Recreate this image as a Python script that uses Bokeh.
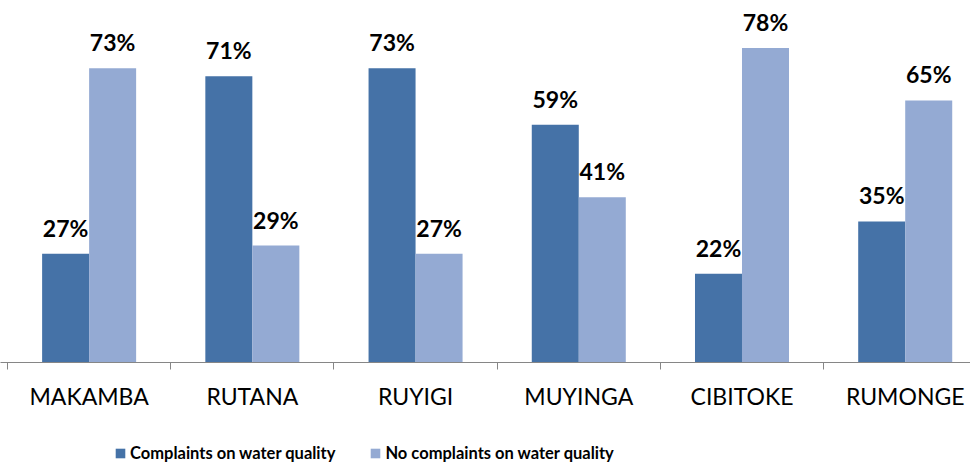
from bokeh.plotting import figure
from bokeh.models import ColumnDataSource, FixedTicker, Legend, LegendItem
from bokeh.layouts import column
from bokeh.embed import file_html
from bokeh.resources import INLINE
from bokeh.core.properties import value

categories = ["MAKAMBA", "RUTANA", "RUYIGI", "MUYINGA", "CIBITOKE", "RUMONGE"]
complaints = [27, 71, 73, 59, 22, 35]
no_complaints = [73, 29, 27, 41, 78, 65]
series_names = ["Complaints on water quality", "No complaints on water quality"]

DARK = "#4572A7"
LIGHT = "#94AAD3"
BAR_W = 0.288

n = len(categories)
centers = [i + 0.5 for i in range(n)]
x_dark = [c - BAR_W / 2 for c in centers]
x_light = [c + BAR_W / 2 for c in centers]

src_dark = ColumnDataSource(dict(x=x_dark, top=complaints, lab=[f"{v}%" for v in complaints]))
src_light = ColumnDataSource(dict(x=x_light, top=no_complaints, lab=[f"{v}%" for v in no_complaints]))

p = figure(frame_width=970, frame_height=362, x_range=(-0.043, 5.90), y_range=(0, 89.8),
           output_backend="svg", toolbar_location=None, y_axis_location=None,
           min_border_left=0, min_border_right=0, min_border_top=0, min_border_bottom=0)
p.grid.visible = False
p.outline_line_color = None
p.background_fill_color = "white"

p.vbar(x="x", top="top", width=BAR_W, bottom=0, source=src_dark, fill_color=DARK, line_color=None)
p.vbar(x="x", top="top", width=BAR_W, bottom=0, source=src_light, fill_color=LIGHT, line_color=None)

for src in (src_dark, src_light):
    p.text(x="x", y="top", text="lab", source=src, text_align="center", text_baseline="alphabetic",
           y_offset=-26, text_font=value("Lato"), text_font_style="bold", text_font_size="23px",
           text_color="black")

ax = p.xaxis[0]
ax.ticker = FixedTicker(ticks=centers, minor_ticks=list(range(n + 1)))
ax.major_label_overrides = {c: cat for c, cat in zip(centers, categories)}
ax.major_tick_out = 0
ax.major_tick_in = 0
ax.minor_tick_out = 7
ax.minor_tick_in = 0
ax.minor_tick_line_color = "#868686"
ax.axis_line_color = "#868686"
ax.major_label_standoff = 12
ax.major_label_text_font = "Lato"
ax.major_label_text_font_size = "23px"
ax.major_label_text_color = "black"

# legend strip below the chart (its renderers share the data but lie below its visible range)
lg = figure(width=970, height=55, x_range=(-0.043, 5.90), y_range=(100, 101),
            output_backend="svg", toolbar_location=None,
            x_axis_location=None, y_axis_location=None,
            min_border_left=0, min_border_right=0, min_border_top=0, min_border_bottom=0)
lg.grid.visible = False
lg.outline_line_color = None
d1 = lg.vbar(x="x", top="top", width=BAR_W, bottom=0, source=src_dark, fill_color=DARK, line_color=None)
d2 = lg.vbar(x="x", top="top", width=BAR_W, bottom=0, source=src_light, fill_color=LIGHT, line_color=None)

legend = Legend(items=[LegendItem(label=series_names[0], renderers=[d1]),
                       LegendItem(label=series_names[1], renderers=[d2])],
                orientation="horizontal", location=(114, 3),
                label_text_font="Lato", label_text_font_style="bold", label_text_font_size="16.5px",
                label_text_color="black", label_height=22,
                glyph_width=12, glyph_height=12, spacing=34, label_standoff=4,
                border_line_color=None, background_fill_alpha=0, padding=0, margin=0)
lg.add_layout(legend, "center")

layout = column(p, lg, spacing=0)
open("out.html", "w").write(file_html(layout, INLINE))
